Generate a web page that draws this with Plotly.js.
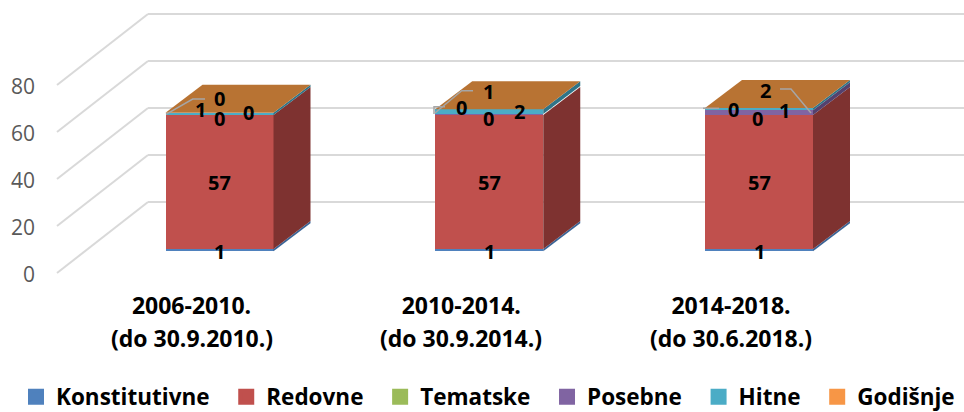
<!DOCTYPE html>
<html><head><meta charset="utf-8">
<script src="https://cdn.plot.ly/plotly-3.0.1.min.js"></script>
<style>html,body{margin:0;padding:0;background:#fff}</style></head>
<body><div id="chart" style="width:964px;height:412px"></div>
<script>
// DATA
var periods = ['2006-2010.', '2010-2014.', '2014-2018.'];
var periodNotes = ['(do 30.9.2010.)', '(do 30.9.2014.)', '(do 30.6.2018.)'];
var seriesNames = ['Konstitutivne', 'Redovne', 'Tematske', 'Posebne', 'Hitne', 'Godišnje'];
var konstitutivne = [1, 1, 1];
var redovne = [57, 57, 57];
var tematske = [0, 0, 0];
var posebne = [0, 0.4, 2];
var hitne = [1, 2, 1];
var godisnje = [0, 0, 0];
var labelsKonstitutivne = ['1', '1', '1'];
var labelsRedovne = ['57', '57', '57'];
var labelsTematske = ['0', '0', '0'];
var labelsPosebne = ['0', '0', '2'];
var labelsHitne = ['1', '2', '1'];
var labelsGodisnje = ['0', '1', '0'];
var yTicks = [0, 20, 40, 60, 80];

// STYLE / GEOMETRY
var W = 964, H = 412, plotH = 290;
var pxPerUnit = 2.35, pxPerCat = 269.75, firstCenterPx = 219.5, frontZeroPx = 251.3, wallZeroPx = 273, tickTextDropPx = 2;
var barDepth = {dx: 37, dy: 28}, wallDepth = {dx: 91, dy: 71}, wallFrontPx = 57, catLabelShiftPx = -28;
var colors = ['#4F81BD', '#C0504D', '#9BBB59', '#8064A2', '#4BACC6', '#F79646'];
var sideColors = ['#3A6496', '#7E3230', '#66803A', '#54416E', '#2F7488', '#A5602A'];
var topColor = '#B87333';
var labelFont = 'Open Sans, sans-serif';
var legendPad = '\u00A0\u00A0';
var nudges = [
  [[0,1],[0,1],[0,1]],
  [[0,1],[0,1],[0,1]],
  [[0,3],[-1,3],[-2,3]],
  [[29,-3],[-28,-7],[6,-22]],
  [[-19,-4],[30,0],[25,1]],
  [[0,-14],[-1,-18],[-26,2]]
];
var leaders = [
  [[205,99],[192.7,99],[166,114.3]],
  [[473,90.7],[461.7,90.7],[435,113]],
  [[445,106.7],[434,106.7],[434,114]],
  [[780,89],[791,89],[811,113]],
  [[719,108.3],[703,108.3]]
];

var xOf = function (px) { return (px - firstCenterPx) / pxPerCat; };
var yOf = function (py) { return (frontZeroPx - py) / pxPerUnit; };
var values = [konstitutivne, redovne, tematske, posebne, hitne, godisnje];
var labels = [labelsKonstitutivne, labelsRedovne, labelsTematske, labelsPosebne, labelsHitne, labelsGodisnje];
var barW = 108 / pxPerCat, ddx = barDepth.dx / pxPerCat, ddy = barDepth.dy / pxPerUnit;
var catShift = catLabelShiftPx / pxPerCat;
var idx = periods.map(function (_, i) { return i; });

var traces = [];
// legend entries: off-axis carriers whose outline gives the larger square swatch
seriesNames.forEach(function (n, s) {
  traces.push({type: 'bar', x: [-5], y: [1], name: s < seriesNames.length - 1 ? n + legendPad : n, width: barW,
    marker: {color: colors[s], line: {width: 4, color: colors[s]}}, hoverinfo: 'skip'});
});
seriesNames.forEach(function (n, s) {
  traces.push({type: 'bar', x: idx, y: values[s], name: n, width: barW, showlegend: false,
    marker: {color: colors[s], line: {width: 0}}, hoverinfo: 'skip'});
});
var annotations = [];
idx.forEach(function (i) {
  var cum = 0;
  var r = i + barW / 2, l = i - barW / 2;
  seriesNames.forEach(function (n, s) {
    var v = values[s][i];
    if (v > 0) {
      traces.push({type: 'scatter', mode: 'lines', fill: 'toself', showlegend: false, hoverinfo: 'skip',
        x: [r, r + ddx, r + ddx, r, r],
        y: [cum, cum + ddy, cum + v + ddy, cum + v, cum],
        fillcolor: sideColors[s], line: {width: 0, color: sideColors[s]}});
    }
    annotations.push({x: i, y: cum + v / 2, xref: 'x', yref: 'y', text: '<b>' + labels[s][i] + '</b>', showarrow: false,
      xshift: nudges[s][i][0], yshift: -nudges[s][i][1],
      font: {family: labelFont, size: 20, color: '#000'}});
    cum += v;
  });
  traces.push({type: 'scatter', mode: 'lines', fill: 'toself', showlegend: false, hoverinfo: 'skip',
    x: [l, r, r + ddx, l + ddx, l], y: [cum, cum, cum + ddy, cum + ddy, cum],
    fillcolor: topColor, line: {width: 0, color: topColor}});
  annotations.push({x: i + catShift, y: (plotH - 338) / plotH, xref: 'x', yref: 'paper', yanchor: 'middle', showarrow: false,
    text: '<b>' + periodNotes[i] + '</b>', font: {family: labelFont, size: 23, color: '#000'}});
});
leaders.forEach(function (pts) {
  traces.push({type: 'scatter', mode: 'lines', showlegend: false, hoverinfo: 'skip',
    x: pts.map(function (p) { return xOf(p[0]); }), y: pts.map(function (p) { return yOf(p[1]); }),
    line: {color: '#A6A6A6', width: 1.5}});
});
traces.push({type: 'scatter', mode: 'none', x: [0], y: [0], yaxis: 'y2', showlegend: false, hoverinfo: 'skip'});

var gridStyle = {color: '#D9D9D9', width: 2};
var shapes = [];
var tickDrop = tickTextDropPx / pxPerUnit;
yTicks.forEach(function (v) {
  var up = wallDepth.dy / pxPerUnit;
  shapes.push({type: 'line', layer: 'below', xref: 'x', yref: 'y2', x0: xOf(wallFrontPx), y0: v + tickDrop,
    x1: xOf(wallFrontPx + wallDepth.dx), y1: v + tickDrop + up, line: gridStyle});
  shapes.push({type: 'line', layer: 'below', xref: 'x', yref: 'y2', x0: xOf(wallFrontPx + wallDepth.dx), y0: v + tickDrop + up,
    x1: xOf(W), y1: v + tickDrop + up, line: gridStyle});
});

var layout = {
  width: W, height: H, margin: {l: 0, r: 0, t: 0, b: H - plotH},
  paper_bgcolor: '#fff', plot_bgcolor: 'rgba(0,0,0,0)',
  barmode: 'stack', showlegend: true,
  xaxis: {range: [xOf(0), xOf(W)], tickmode: 'array', tickvals: idx.map(function (i) { return i + catShift; }),
    ticktext: periods.map(function (p) { return '<b>' + p + '</b>'; }),
    showgrid: false, zeroline: false, showline: false, ticks: '', ticklen: 0, automargin: false,
    tickfont: {family: labelFont, size: 23, color: '#000'}},
  yaxis: {range: [yOf(plotH), yOf(0)], visible: false, fixedrange: true},
  yaxis2: {range: [-(plotH - wallZeroPx - tickTextDropPx) / pxPerUnit, (wallZeroPx + tickTextDropPx) / pxPerUnit], overlaying: 'y', anchor: 'free', position: 35 / W,
    side: 'left', tickmode: 'array', tickvals: yTicks, showgrid: false, zeroline: false, showline: false, ticks: '',
    automargin: false, tickfont: {family: 'Open Sans, sans-serif', size: 21, color: '#595959'}},
  legend: {orientation: 'h', xref: 'container', yref: 'container', x: 16 / W, xanchor: 'left', y: (H - 397) / H, yanchor: 'middle',
    traceorder: 'normal', font: {family: labelFont, size: 22.5, color: '#000', weight: 'bold'}},
  shapes: shapes, annotations: annotations
};
Plotly.newPlot('chart', traces, layout, {displayModeBar: false, staticPlot: true});
</script></body></html>
